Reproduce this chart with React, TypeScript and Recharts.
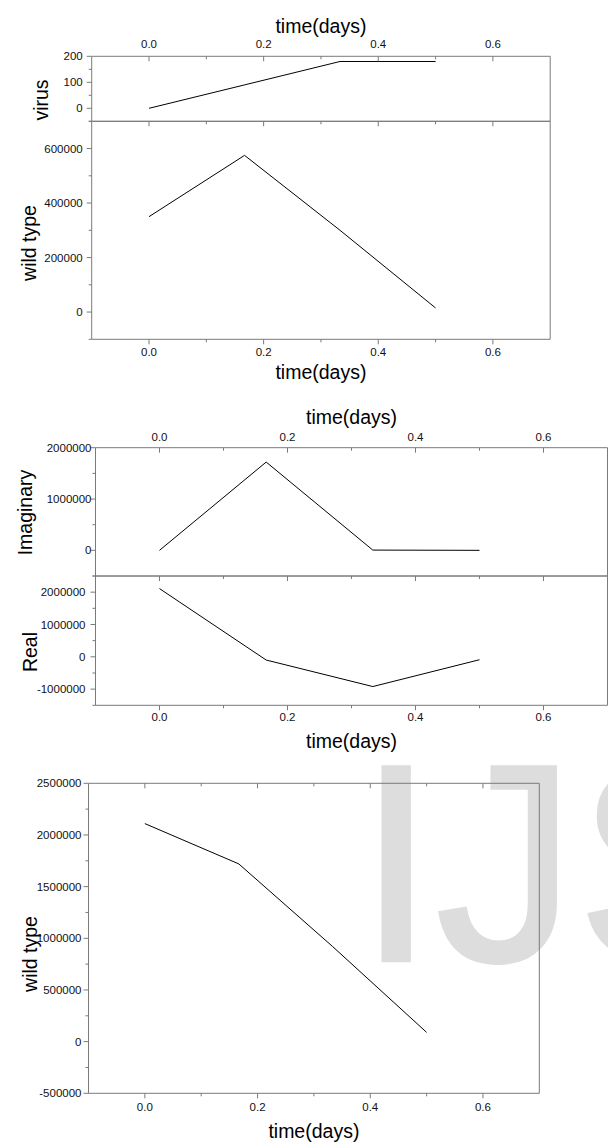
import { LineChart, Line, XAxis, YAxis } from 'recharts';

// sample times (days) and the five measured series
const times = [0, 0.1667, 0.3333, 0.5];
const virus = [0, 90, 180, 180];
const wildTypeTop = [350000, 575000, 300000, 15000];
const imaginary = [0, 1720000, 5000, 0];
const real = [2110000, -100000, -920000, -90000];
const wildTypeBottom = [2110000, 1720000, 920000, 90000];

// axis ticks
const xMajor = [0, 0.2, 0.4, 0.6];
const xMinor = [0.1, 0.3, 0.5];
const virusMajor = [0, 100, 200];
const virusMinor = [-50, 50, 150];
const wildTopMajor = [0, 200000, 400000, 600000];
const wildTopMinor = [-100000, 100000, 300000, 500000, 700000];
const imagMajor = [0, 1000000, 2000000];
const imagMinor = [-500000, 500000, 1500000];
const realMajor = [-1000000, 0, 1000000, 2000000];
const realMinor = [-1500000, -500000, 500000, 1500000, 2500000];
const wildBottomMajor = [-500000, 0, 500000, 1000000, 1500000, 2000000, 2500000];
const wildBottomMinor = [-250000, 250000, 750000, 1250000, 1750000, 2250000];

const W = 608;
const FONT = '"Liberation Sans", Arial, Helvetica, sans-serif';
const AXIS = '#7a7a7a';
const X_DOMAIN: [number, number] = [-0.1, 0.7];

type PanelProps = {
  top: number;
  bottom: number;
  plotTop: number;
  plotBottom: number;
  plotLeft: number;
  plotRight: number;
  values: number[];
  yDomain: [number, number];
  yMajor: number[];
  yMinor: number[];
  topLabels?: boolean;
  bottomLabels?: boolean;
  xGap: number;
  yGap: number;
  titleY?: number;
  yLabel: string;
  yLabelX: number;
  yLabelY: number;
};

function Panel(p: PanelProps) {
  const height = p.bottom - p.top;
  const data = times.map((t, i) => ({ t, v: p.values[i] }));
  const xTicks = [...xMajor, ...xMinor].sort((a, b) => a - b);
  const yTicks = [...p.yMajor, ...p.yMinor].sort((a, b) => a - b);
  const cx = (p.plotLeft + p.plotRight) / 2;

  const xTick = (side: 'top' | 'bottom', showLabel: boolean) => (props: any) => {
    const { x, y, payload } = props;
    const major = xMajor.includes(payload.value);
    const len = major ? 5 : 3;
    return (
      <g>
        <line x1={x} x2={x} y1={y} y2={y + len} stroke={AXIS} />
        {showLabel && major && (
          <text
            x={x}
            y={side === 'top' ? y - p.xGap : y + p.xGap}
            dy="0.35em"
            textAnchor="middle"
            fontSize={11.5}
            fontFamily={FONT}
            fill="#111"
          >
            {payload.value.toFixed(1)}
          </text>
        )}
      </g>
    );
  };

  const yTick = (showLabel: boolean) => (props: any) => {
    const { x, y, payload } = props;
    const major = p.yMajor.includes(payload.value);
    const len = major ? 5 : 3;
    return (
      <g>
        <line x1={x} x2={x - len} y1={y} y2={y} stroke={AXIS} />
        {showLabel && major && (
          <text
            x={x - p.yGap}
            y={y}
            dy="0.35em"
            textAnchor="end"
            fontSize={11.5}
            fontFamily={FONT}
            fill="#111"
          >
            {String(payload.value)}
          </text>
        )}
      </g>
    );
  };

  const title = () => (
    <text
      x={cx}
      y={(p.titleY ?? 0) - p.top}
      textAnchor="middle"
      fontSize={19.5}
      fontFamily={FONT}
      fill="#000"
    >
      time(days)
    </text>
  );

  const yTitle = () => {
    const lx = p.yLabelX;
    const ly = p.yLabelY - p.top;
    return (
      <text
        x={lx}
        y={ly}
        dy="0.35em"
        transform={`rotate(-90, ${lx}, ${ly})`}
        textAnchor="middle"
        fontSize={19.5}
        fontFamily={FONT}
        fill="#000"
      >
        {p.yLabel}
      </text>
    );
  };

  return (
    <div style={{ position: 'absolute', left: 0, top: p.top, width: W, height }}>
      <LineChart width={W} height={height} data={data} margin={{ top: 0, right: 0, bottom: 0, left: 0 }}>
        <XAxis
          xAxisId="t"
          orientation="top"
          dataKey="t"
          type="number"
          domain={X_DOMAIN}
          ticks={xTicks}
          interval={0}
          height={p.plotTop - p.top}
          tickSize={0}
          tickMargin={0}
          tick={xTick('top', !!p.topLabels)}
          axisLine={{ stroke: AXIS }}
          label={p.topLabels ? title : undefined}
        />
        <XAxis
          xAxisId="b"
          orientation="bottom"
          dataKey="t"
          type="number"
          domain={X_DOMAIN}
          ticks={xTicks}
          interval={0}
          height={p.bottom - p.plotBottom}
          tickSize={0}
          tickMargin={0}
          tick={xTick('bottom', !!p.bottomLabels)}
          axisLine={{ stroke: AXIS }}
          label={p.bottomLabels ? title : undefined}
        />
        <YAxis
          yAxisId="l"
          orientation="left"
          type="number"
          domain={p.yDomain}
          ticks={yTicks}
          interval={0}
          width={p.plotLeft}
          tickSize={0}
          tickMargin={0}
          tick={yTick(true)}
          axisLine={{ stroke: AXIS }}
          label={yTitle}
        />
        <YAxis
          yAxisId="r"
          orientation="right"
          type="number"
          domain={p.yDomain}
          ticks={yTicks}
          interval={0}
          width={W - p.plotRight}
          tickSize={0}
          tickMargin={0}
          tick={yTick(false)}
          axisLine={{ stroke: AXIS }}
        />
        <Line
          xAxisId="b"
          yAxisId="l"
          dataKey="v"
          type="linear"
          stroke="#000"
          strokeWidth={1}
          dot={false}
          isAnimationActive={false}
        />
      </LineChart>
    </div>
  );
}

export default function App() {
  return (
    <div
      style={{
        position: 'absolute',
        left: 0,
        top: 0,
        width: W,
        height: 1142,
        overflow: 'hidden',
        background: '#fff',
      }}
    >
      {/* faint journal watermark behind the last panel */}
      <svg width={W} height={1142} style={{ position: 'absolute', left: 0, top: 0 }}>
        <text
          x={357}
          y={960.7}
          fontSize={282}
          fontFamily={FONT}
          fill="#dddddd"
          stroke="#dddddd"
          strokeWidth={3}
        >
          IJSER
        </text>
      </svg>
      <Panel
        top={0}
        bottom={122.3}
        plotTop={56.3}
        plotBottom={121.3}
        plotLeft={91.7}
        plotRight={550.2}
        values={virus}
        yDomain={[-50, 200]}
        yMajor={virusMajor}
        yMinor={virusMinor}
        topLabels
        xGap={12}
        yGap={9}
        titleY={33}
        yLabel="virus"
        yLabelX={40.7}
        yLabelY={100}
      />
      <Panel
        top={120}
        bottom={390}
        plotTop={121.3}
        plotBottom={339.3}
        plotLeft={91.7}
        plotRight={550.2}
        values={wildTypeTop}
        yDomain={[-100000, 700000]}
        yMajor={wildTopMajor}
        yMinor={wildTopMinor}
        bottomLabels
        xGap={12.7}
        yGap={9}
        titleY={379}
        yLabel="wild type"
        yLabelX={29}
        yLabelY={243}
      />
      <Panel
        top={395}
        bottom={577}
        plotTop={447.7}
        plotBottom={576}
        plotLeft={95.5}
        plotRight={607.5}
        values={imaginary}
        yDomain={[-500000, 2000000]}
        yMajor={imagMajor}
        yMinor={imagMinor}
        topLabels
        xGap={11}
        yGap={4}
        titleY={424}
        yLabel="Imaginary"
        yLabelX={25.2}
        yLabelY={512.5}
      />
      <Panel
        top={575}
        bottom={760}
        plotTop={576}
        plotBottom={705.3}
        plotLeft={95.5}
        plotRight={607.5}
        values={real}
        yDomain={[-1500000, 2500000]}
        yMajor={realMajor}
        yMinor={realMinor}
        bottomLabels
        xGap={11.4}
        yGap={10}
        titleY={748}
        yLabel="Real"
        yLabelX={30}
        yLabelY={652}
      />
      <Panel
        top={760}
        bottom={1142}
        plotTop={783.3}
        plotBottom={1093.3}
        plotLeft={88.5}
        plotRight={539.3}
        values={wildTypeBottom}
        yDomain={[-500000, 2500000]}
        yMajor={wildBottomMajor}
        yMinor={wildBottomMinor}
        bottomLabels
        xGap={13.4}
        yGap={7}
        titleY={1138}
        yLabel="wild type"
        yLabelX={30}
        yLabelY={954}
      />
    </div>
  );
}
